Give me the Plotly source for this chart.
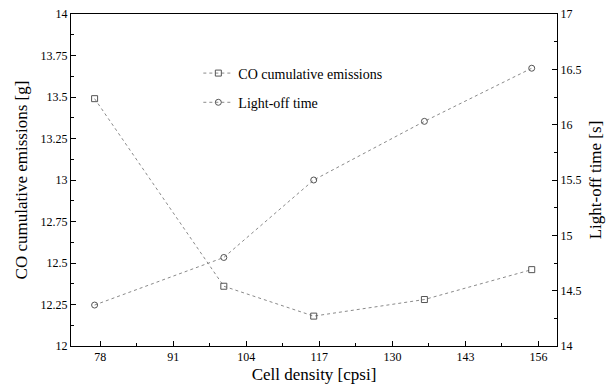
import plotly.graph_objects as go

# Cell density of each monolith [cpsi]
cell_density = [77, 100, 116, 135.7, 154.8]
# CO cumulative emissions [g]
co_emissions = [13.49, 12.36, 12.18, 12.28, 12.46]
# Light-off time [s]
light_off = [14.37, 14.80, 15.50, 16.03, 16.51]

x_ticks = [78, 91, 104, 117, 130, 143, 156]
left_ticks = [12, 12.25, 12.5, 12.75, 13, 13.25, 13.5, 13.75, 14]
left_labels = ["12", "12.25", "12.5", "12.75", "13", "13.25", "13.5", "13.75", "14"]
right_ticks = [14, 14.5, 15, 15.5, 16, 16.5, 17]
right_labels = ["14", "14.5", "15", "15.5", "16", "16.5", "17"]

FONT = "Times New Roman"
LINE = "#8a8a8a"
MARK = "#555555"

fig = go.Figure()
fig.add_trace(go.Scatter(
    x=cell_density, y=co_emissions, name="CO cumulative emissions",
    mode="lines+markers", yaxis="y", legendgroup="a",
    line=dict(color=LINE, width=1, dash="dot"),
    marker=dict(symbol="square-open", size=6, color=MARK, line=dict(width=1)),
))
fig.add_trace(go.Scatter(
    x=cell_density, y=light_off, name="Light-off time",
    mode="lines+markers", yaxis="y2", legendgroup="b",
    line=dict(color=LINE, width=1, dash="dot"),
    marker=dict(symbol="circle-open", size=6, color=MARK, line=dict(width=1)),
))

axis_common = dict(
    showline=True, linecolor="black", linewidth=1, ticks="inside",
    ticklen=5, tickcolor="black", showgrid=False, zeroline=False,
    automargin=False,
    tickfont=dict(family=FONT, size=12, color="black"),
)

fig.update_layout(
    width=616, height=387,
    margin=dict(l=71, r=59, t=14, b=41),
    paper_bgcolor="white", plot_bgcolor="white",
    font=dict(family=FONT, color="black"),
    showlegend=True,
    legend=dict(
        x=0.262, y=0.869, xanchor="left", yanchor="top",
        bgcolor="rgba(0,0,0,0)", borderwidth=0,
        font=dict(family=FONT, size=14, color="black"),
        traceorder="grouped", tracegroupgap=8, itemwidth=30,
    ),
    xaxis=dict(
        **axis_common, range=[72.8, 159.3], tickvals=x_ticks,
        mirror=True,
        minor=dict(dtick=6.5, tick0=78, ticks="inside", ticklen=3, tickcolor="black"),
        title=dict(text="Cell density [cpsi]", font=dict(family=FONT, size=17), standoff=4),
    ),
    yaxis=dict(
        **axis_common, range=[12, 14], tickvals=left_ticks, ticktext=left_labels,
        minor=dict(dtick=0.125, tick0=12, ticks="inside", ticklen=3, tickcolor="black"),
        title=dict(text="CO cumulative emissions [g]", font=dict(family=FONT, size=17), standoff=8),
    ),
    yaxis2=dict(
        **axis_common, range=[14, 17], tickvals=right_ticks, ticktext=right_labels,
        overlaying="y", side="right",
        minor=dict(dtick=0.25, tick0=14, ticks="inside", ticklen=3, tickcolor="black"),
        title=dict(text="Light-off time [s]", font=dict(family=FONT, size=17), standoff=8),
    ),
)

fig.write_html("out.html")
